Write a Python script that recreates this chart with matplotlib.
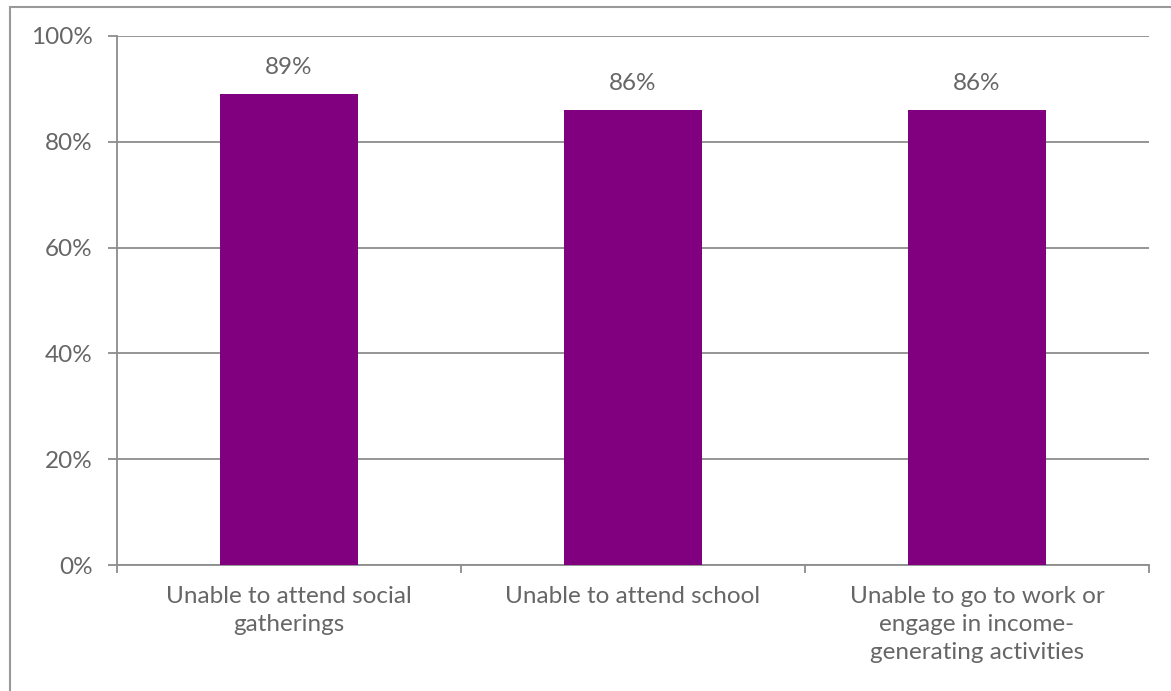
import matplotlib.pyplot as plt
from matplotlib.patches import Rectangle

categories = ['Unable to attend social\ngatherings',
              'Unable to attend school',
              'Unable to go to work or\nengage in income-\ngenerating activities']
values = [89, 86, 86]
yticks = [0, 20, 40, 60, 80, 100]

plt.rcParams['font.family'] = ['Lato', 'DejaVu Sans']
text_color = '#666666'
grid_color = '#8c8c8c'
fs = 17.5

fig = plt.figure(figsize=(11.71, 6.91), dpi=100)
fig.patches.append(Rectangle((10 / 1171, -0.1), 1.2, 1 - 7 / 691 + 0.1,
                             transform=fig.transFigure, fill=False,
                             edgecolor='#999999', linewidth=1.5))
ax = fig.add_axes([117 / 1171, 1 - 565 / 691, (1149 - 117) / 1171, (565 - 36) / 691])

x = range(len(categories))
bars = ax.bar(x, values, width=0.4, color='#800080', zorder=3)
for b, v in zip(bars, values):
    ax.text(b.get_x() + b.get_width() / 2, v + 3.1, f'{v}%', ha='center', va='bottom',
            fontsize=fs, color=text_color)

ax.set_xlim(-0.5, len(categories) - 0.5)
ax.set_ylim(0, 100)
ax.set_yticks(yticks)
ax.set_yticklabels([f'{t}%' for t in yticks])
ax.yaxis.grid(True, color=grid_color, linewidth=1.3, zorder=0)

ax.set_xticks([i - 0.5 for i in range(len(categories) + 1)], minor=False)
ax.set_xticklabels([])
ax.set_xticks(list(x), minor=True)
ax.set_xticklabels(categories, minor=True, fontsize=fs, color=text_color, linespacing=1.42)
ax.tick_params(axis='x', which='major', length=6, color=grid_color, width=1.3)
ax.tick_params(axis='x', which='minor', length=0, pad=15)
ax.tick_params(axis='y', length=6.5, color=grid_color, width=1.3, labelsize=fs,
               labelcolor=text_color, pad=11)

for s in ['top', 'right']:
    ax.spines[s].set_visible(False)
for s in ['left', 'bottom']:
    ax.spines[s].set_color(grid_color)
    ax.spines[s].set_linewidth(1.3)

fig.savefig('out.png', dpi=100)
